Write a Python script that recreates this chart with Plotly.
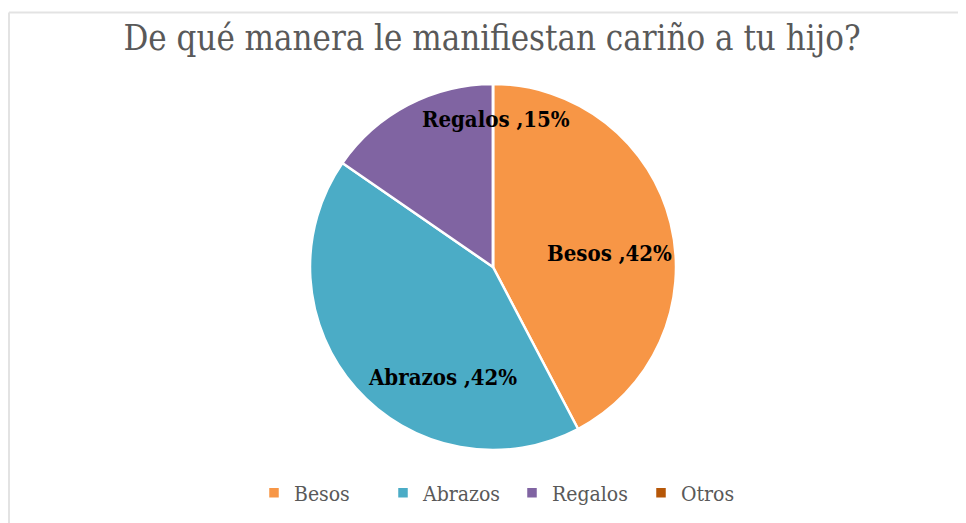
import math
import plotly.graph_objects as go

categories = ["Besos", "Abrazos", "Regalos", "Otros"]
values = [11, 11, 4, 0]
colors = ["#F79646", "#4BACC6", "#8064A2", "#B65708"]
title_text = "De qué manera le manifiestan cariño a tu hijo?"

OFF = 8  # page body margin
W, H = 966 - OFF, 523 - OFF
cx, cy, R = 493 - OFF, 267 - OFF, 183

FONT = "DejaVu Serif Condensed, Liberation Serif, serif"

# label placement style ("best fit"-like): angular shift (deg) and radial fraction
label_shift = [7, -24, 29, 0]
label_rfrac = [0.64, 0.66, 0.81, 0.5]

fig = go.Figure(go.Pie(
    labels=categories,
    values=values,
    sort=False,
    direction="clockwise",
    rotation=0,
    marker=dict(colors=colors, line=dict(color="white", width=2.5)),
    textinfo="none",
    domain=dict(x=[(cx - R) / W, (cx + R) / W],
                y=[(H - cy - R) / H, (H - cy + R) / H]),
    showlegend=True,
    hoverinfo="label+percent",
))

total = sum(values)
annotations = []
cum = 0.0
for cat, v, sh, rf in zip(categories, values, label_shift, label_rfrac):
    if v > 0:
        mid = (cum + v / 2) / total * 360 + sh
        px = cx + rf * R * math.sin(math.radians(mid))
        py = cy - rf * R * math.cos(math.radians(mid))
        pct = round(v / total * 100)
        annotations.append(dict(
            x=px / W, y=1 - py / H, xref="paper", yref="paper",
            xanchor="center", yanchor="middle", showarrow=False,
            text=f"<b>{cat} ,{pct}%</b>",
            font=dict(family=FONT, size=22, color="black"),
        ))
    cum += v

fig.update_layout(
    width=W, height=H,
    margin=dict(l=0, r=0, t=0, b=0),
    paper_bgcolor="white",
    plot_bgcolor="white",
    title=dict(text=title_text, x=(492 - OFF) / W, xanchor="center",
               y=1 - (38 - OFF) / H, yanchor="middle",
               font=dict(family=FONT, size=34.5, color="#595959")),
    legend=dict(orientation="h", x=(254 - OFF) / W, xanchor="left",
                y=1 - (493 - OFF) / H, yanchor="middle",
                font=dict(family=FONT, size=21, color="#595959"),
                itemwidth=30, entrywidth=84, entrywidthmode="pixels",
                itemclick=False),
    annotations=annotations,
    shapes=[
        dict(type="line", xref="paper", yref="paper", x0=(9 - OFF) / W, x1=1,
             y0=1 - (12.5 - OFF) / H, y1=1 - (12.5 - OFF) / H,
             line=dict(color="#E3E3E3", width=2)),
        dict(type="line", xref="paper", yref="paper", x0=(9 - OFF) / W, x1=(9 - OFF) / W,
             y0=0, y1=1 - (12.5 - OFF) / H,
             line=dict(color="#E3E3E3", width=2)),
    ],
)

fig.write_html("out.html")
